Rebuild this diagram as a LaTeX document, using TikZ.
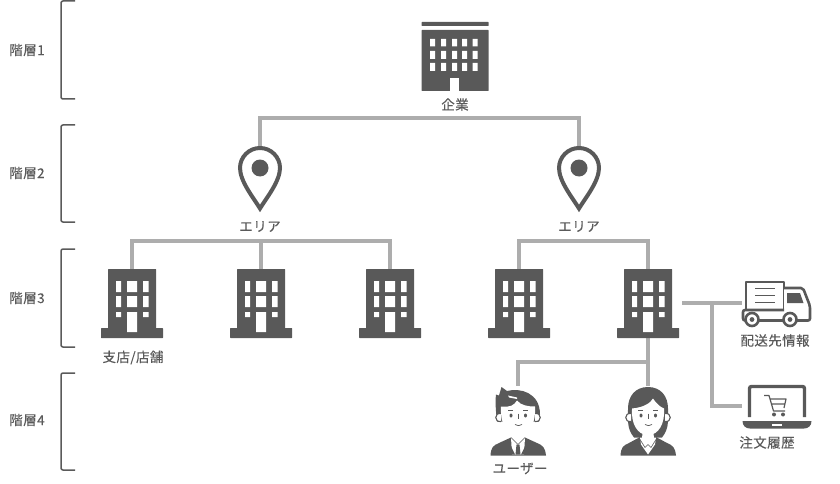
\documentclass[tikz,border=0pt]{standalone}
\usepackage{fontspec}
\usepackage{xcolor}
\setmainfont[FakeBold=0.25,LetterSpace=3]{Noto Sans CJK JP}
\usetikzlibrary{positioning,calc}
\definecolor{icongray}{HTML}{595959}
\definecolor{linegray}{HTML}{ADADAD}
\definecolor{textgray}{HTML}{5A5A5A}

\begin{document}
\begin{tikzpicture}[x=1pt, y=-1pt,
  conn/.style    = {draw=linegray, line width=3.4pt},
  bracket/.style = {draw=textgray, line width=1.5pt, rounded corners=2pt},
  level/.style   = {font=\fontsize{13.5}{15}\selectfont, text=textgray, inner sep=0pt},
  caption/.style = {font=\fontsize{13.5}{15}\selectfont, text=textgray, inner sep=0pt},
  shopbox/.style = {minimum width=48pt, minimum height=69pt, inner sep=0pt},
  pinbox/.style  = {minimum width=44pt, minimum height=67pt, inner sep=0pt},
  userbox/.style = {minimum width=56pt, minimum height=68pt, inner sep=0pt},
  solid ic/.style = {fill=icongray, draw=none},
  hole/.style    = {fill=white, draw=none},
  pics/company/.style = {code={
    \path[solid ic, rounded corners=0.5pt] (-33.5,-34.5) rectangle (33.5,-30.5);
    \path[solid ic, rounded corners=0.5pt] (-33.5,-26.5) rectangle (33.5,34.5);
    \path[hole] (-25,-17.5) rectangle (-20,-10) (-14,-17.5) rectangle (-9,-10) (-3,-17.5) rectangle (2,-10) (7,-17.5) rectangle (12,-10) (17.5,-17.5) rectangle (22.5,-10);
    \path[hole] (-25,-5.5) rectangle (-20,2.5) (-14,-5.5) rectangle (-9,2.5) (-3,-5.5) rectangle (2,2.5) (7,-5.5) rectangle (12,2.5) (17.5,-5.5) rectangle (22.5,2.5);
    \path[hole] (-25,6.5) rectangle (-20,14.5) (-14,6.5) rectangle (-9,14.5) (-3,6.5) rectangle (2,14.5) (7,6.5) rectangle (12,14.5) (17.5,6.5) rectangle (22.5,14.5);
    \path[hole] (-5,21.5) rectangle (4,34.5);
  }},
  pics/shop/.style = {code={
    \path[solid ic, rounded corners=0.5pt] (-24,-34.5) rectangle (24,26);
    \path[solid ic, rounded corners=0.5pt] (-31,24.5) rectangle (31,34.5);
    \path[hole] (-16,-22.5) rectangle (-11,-11.5) (-5,-22.5) rectangle (5,-11.5) (11,-22.5) rectangle (16.5,-11.5);
    \path[hole] (-16,-7.5) rectangle (-11,3.5) (-5,-7.5) rectangle (5,3.5) (11,-7.5) rectangle (16.5,3.5);
    \path[hole] (-16,8.5) rectangle (-11,13.5) (11,8.5) rectangle (16.5,13.5) (-5,8.5) rectangle (5,28.5);
  }},
  pics/pin/.style = {code={
    \draw[draw=icongray, line width=4pt, fill=white, miter limit=6]
      (-20,-11.5) .. controls (-20,-22.5) and (-11,-31.5) .. (0,-31.5)
      .. controls (11,-31.5) and (20,-22.5) .. (20,-11.5)
      .. controls (20,2) and (6,19) .. (0,29)
      .. controls (-6,19) and (-20,2) .. (-20,-11.5) -- cycle;
    \path[solid ic] (0,-11.5) circle (8.5pt);
  }},
  pics/man/.style = {code={
    % suit
    \path[solid ic] (-27.5,35) .. controls (-27,27) and (-25,25) .. (-19,22.5) -- (-7,17) -- (7,17) -- (19,22.5) .. controls (25,25) and (27,27) .. (28,35) -- cycle;
    % collar and tie
    \path[hole] (-7,17) -- (-6,34) -- (6,34) -- (7,17) -- cycle;
    \path[solid ic] (-1.5,24) -- (1.5,24) -- (2.5,34) -- (-2.5,34) -- cycle;
    \path[solid ic] (-7,26) -- (-3,34) -- (-7,34) -- cycle (7,26) -- (3,34) -- (7,34) -- cycle;
    % hair
    \path[solid ic] (-16.5,-33.5) -- (-11,-29.5) .. controls (2,-33) and (22,-28) .. (22,-6) -- (21,1) -- (-21,1) .. controls (-22,-8) and (-23,-18) .. (-22,-26) -- (-19,-25) -- cycle;
    % ears
    \draw[draw=icongray, line width=1.1pt, fill=white] (-17,-7) .. controls (-24,-8) and (-24,2) .. (-17,1) (17,-7) .. controls (24,-8) and (24,2) .. (17,1);
    % face
    \path[hole] (-17,-14) .. controls (-8,-13) and (-4,-15) .. (-1,-20) .. controls (3,-15) and (10,-14) .. (17,-14) .. controls (18,2) and (12,15) .. (0,16) .. controls (-12,15) and (-18,2) .. (-17,-14) -- cycle;
    \path[hole] (-5,10) -- (5,10) -- (7,17) -- (0,24) -- (-7,17) -- cycle;
    \draw[draw=icongray, line width=0.5pt] (-7,17) -- (0,24) -- (7,17);
    \path[fill=white] (-10,-25) -- (-1,-23) -- (-1,-21.5) -- (-9,-23) -- cycle;
    % eyes, brows, nose, mouth
    \path[solid ic] (-7,-5) ellipse (1.5pt and 2pt) (7.5,-5) ellipse (1.5pt and 2pt);
    \draw[draw=icongray, line width=0.6pt] (-10,-10.5) -- (-5,-10.5) (5,-10.5) -- (10,-10.5) (0,-7) -- (0,-2);
    \draw[draw=icongray, line width=0.7pt] (-3,4) .. controls (-1,5.5) and (2,5.5) .. (4,4);
  }},
  pics/woman/.style = {code={
    % hair
    \path[solid ic] (0,-33.5) .. controls (13,-33.5) and (20,-24) .. (20,-12) .. controls (20,2) and (21,8) .. (14,17) -- (-14,17) .. controls (-21,8) and (-20,2) .. (-20,-12) .. controls (-20,-24) and (-13,-33.5) .. (0,-33.5) -- cycle;
    % suit
    \path[solid ic] (-27.5,35) .. controls (-27,27) and (-25,25) .. (-19,22.5) -- (-7,16) -- (7,16) -- (19,22.5) .. controls (25,25) and (27,27) .. (28,35) -- cycle;
    % collar
    \path[hole] (-8,17) -- (-7,24) -- (0,34) -- (7,24) -- (8,17) -- cycle;
    \draw[draw=icongray, line width=0.6pt] (-8,19) -- (-3,27) -- (0,24) -- (3,27) -- (8,19);
    % ears
    \draw[draw=icongray, line width=1.1pt, fill=white] (-17,-7) .. controls (-24,-8) and (-24,2) .. (-17,1) (17,-7) .. controls (24,-8) and (24,2) .. (17,1);
    % face
    \path[hole] (-16,-12) .. controls (-4,-13) and (3,-18) .. (5,-22) .. controls (8,-17) and (13,-13) .. (16,-12) .. controls (17,3) and (11,14) .. (0,15) .. controls (-11,14) and (-17,3) .. (-16,-12) -- cycle;
    \path[hole] (-5,10) -- (5,10) -- (6,17) -- (0,24) -- (-6,17) -- cycle;
    % eyes, brows, nose, mouth
    \path[solid ic] (-7,-5) ellipse (1.5pt and 2pt) (7.5,-5) ellipse (1.5pt and 2pt);
    \draw[draw=icongray, line width=0.6pt] (-10,-10) -- (-5,-10) (5,-10) -- (10,-10) (0,-7) -- (0,-2);
    \draw[draw=icongray, line width=0.7pt] (-3,4) .. controls (-1,5.5) and (2,5.5) .. (4,4);
  }},
  pics/truck/.style = {code={
    % cargo box and cab
    \draw[draw=icongray, line width=2.6pt, line join=round, fill=white]
      (-31,15) -- (-31,-21) -- (7,-21) -- (7,15);
    \draw[draw=icongray, line width=2.6pt, line join=round, rounded corners=2pt, fill=white]
      (7,-15) -- (26,-15) -- (33,3) -- (33,17.5) -- (-34,17.5) -- (-34,7) -- (7,7);
    \draw[draw=icongray, line width=1.8pt] (-22,-14.5) -- (-2,-14.5) (-22,-7.5) -- (-2,-7.5) (-22,-0.5) -- (-2,-0.5);
    \path[solid ic] (10,-10) -- (23,-10) -- (26.5,0) -- (10,0) -- cycle;
    % wheels
    \draw[draw=icongray, line width=2.6pt, fill=white] (-25,16.5) circle (6.5pt) (13,16.5) circle (6.5pt);
    \path[solid ic] (-25,16.5) circle (2.4pt) (13,16.5) circle (2.4pt);
  }},
  pics/laptop/.style = {code={
    \draw[draw=icongray, line width=3.4pt, rounded corners=2pt] (-27.5,11) -- (-27.5,-19.5) -- (27.5,-19.5) -- (27.5,11);
    \path[solid ic] (-34.5,15) -- (34.5,15) .. controls (34.5,20) and (31,22.5) .. (27,22.5) -- (-27,22.5) .. controls (-31,22.5) and (-34.5,20) .. (-34.5,15) -- cycle;
    \path[hole] (-5,17.5) rectangle (5,19.5);
    % cart
    \draw[draw=icongray, line width=1.2pt, line join=round] (-13,-10.5) -- (-8,-10.5) -- (-3.5,5) -- (8,5) (-6.5,-7) -- (9,-7) -- (7,2) (-5.5,-2) -- (8,-2);
    \path[solid ic] (-3,8.5) circle (2pt) (6,8.5) circle (2pt);
  }}
]
\useasboundingbox (0,0) rectangle (840,484);

% level labels and brackets
\node[level] (lev1) at (27,50)  {階層1};
\node[level] (lev2) at (27,173) {階層2};
\node[level] (lev3) at (27,298) {階層3};
\node[level] (lev4) at (27,420) {階層4};
\draw[bracket] (75,1)   -- (61,1)   -- (61,99)  -- (75,99);
\draw[bracket] (75,125) -- (61,125) -- (61,222) -- (75,222);
\draw[bracket] (75,249) -- (61,249) -- (61,347) -- (75,347);
\draw[bracket] (75,373) -- (61,373) -- (61,470) -- (75,470);

% icon places
\node[minimum width=67pt, minimum height=69pt, inner sep=0pt] (company) at (455,56.5) {};
\node[pinbox]  (pinL)  at (260,179.5) {};
\node[pinbox]  (pinR)  at (579,179.5) {};
\node[shopbox] (shopA) at (132,303.5) {};
\node[shopbox] (shopB) at (261,303.5) {};
\node[shopbox] (shopC) at (390,303.5) {};
\node[shopbox] (shopD) at (519,303.5) {};
\node[shopbox] (shopE) at (648,303.5) {};
\node[userbox] (man)   at (518,420.5) {};
\node[userbox] (woman) at (648,420.5) {};
\node[minimum width=70pt, minimum height=40pt, inner sep=0pt] (truck)  at (777,303) {};
\node[minimum width=70pt, minimum height=44pt, inner sep=0pt] (laptop) at (777,406) {};

% captions
\node[caption] (capCompany) at (455,104.5) {企業};
\node[caption] (capPinL)    at (260,226.5) {エリア};
\node[caption] (capPinR)    at (579,226.5) {エリア};
\node[caption] (capShop)    at (133,357.5) {支店/店舗};
\node[caption] (capUser)    at (520,468.5) {ユーザー};
\node[caption] (capTruck)   at (775,340.5) {配送先情報};
\node[caption] (capLaptop)  at (767,442.5) {注文履歴};

% bus points
\coordinate (busTop)   at (455,118);
\coordinate (busLeft)  at (261,241);
\coordinate (busRight) at (579,241);
\coordinate (busUser)  at (648,362);
\coordinate (shopOut)  at (682,303);
\coordinate (busInfo)  at (712,303);

% connectors
\draw[conn] (busTop) -| (pinL.north);
\draw[conn] (busTop) -| (pinR.north);
\draw[conn] (busLeft) -| (shopA.north);
\draw[conn] (busLeft) -- (shopB.north);
\draw[conn] (busLeft) -| (shopC.north);
\draw[conn] (busRight) -| (shopD.north);
\draw[conn] (busRight) -| (shopE.north);
\draw[conn] (shopE.south) -- (woman.north);
\draw[conn] (busUser) -| (man.north);
\draw[conn] (shopOut) -- (truck.west);
\draw[conn] (busInfo) |- (laptop.west);

% icons
\pic at (company) {company};
\pic at (pinL) {pin};
\pic at (pinR) {pin};
\pic at (shopA) {shop};
\pic at (shopB) {shop};
\pic at (shopC) {shop};
\pic at (shopD) {shop};
\pic at (shopE) {shop};
\pic at (man) {man};
\pic at (woman) {woman};
\pic at (truck) {truck};
\pic at (laptop) {laptop};

\end{tikzpicture}
\end{document}
